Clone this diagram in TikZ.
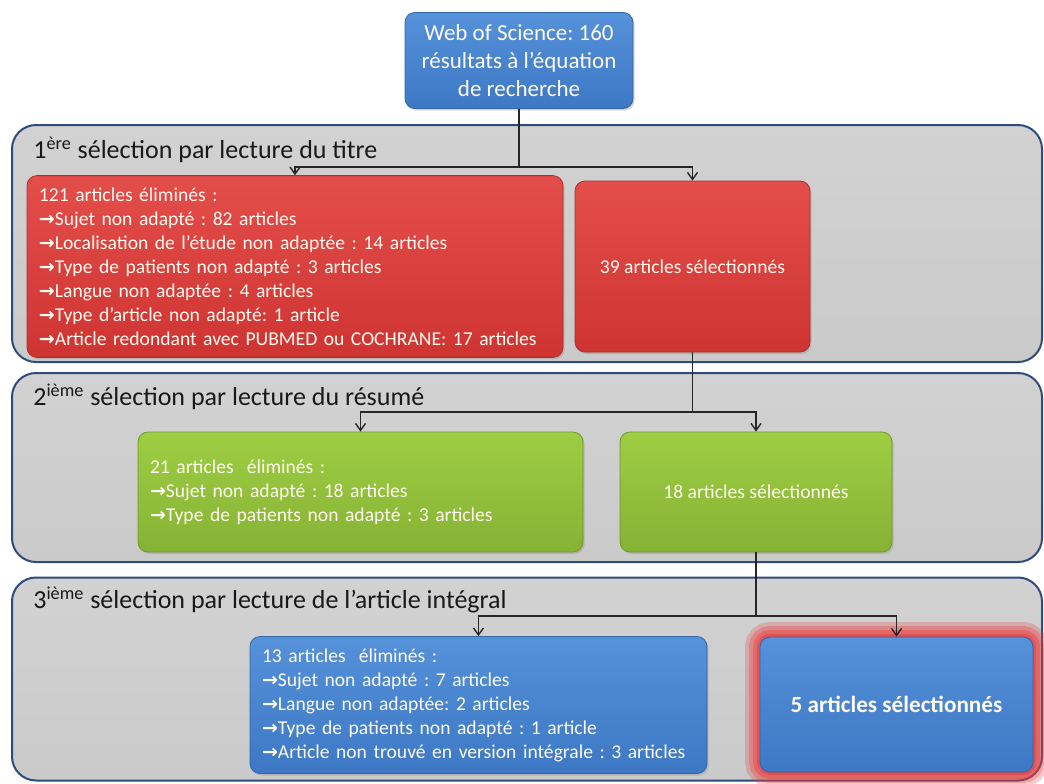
\documentclass[tikz,border=0pt]{standalone}
\usepackage{fontspec}
\setmainfont{Carlito}
\newfontfamily\arrowfont{DejaVu Sans}
\usetikzlibrary{arrows.meta, positioning, shadows}
\frenchspacing
\definecolor{bandgray}{RGB}{202,202,202}
\definecolor{bandline}{RGB}{47,75,125}
\definecolor{boxred}{RGB}{206,52,50}
\definecolor{boxredtop}{RGB}{228,78,74}
\definecolor{boxgreen}{RGB}{134,178,52}
\definecolor{boxgreentop}{RGB}{158,206,68}
\definecolor{boxblue}{RGB}{60,120,196}
\definecolor{boxbluetop}{RGB}{86,146,218}
\definecolor{glowred}{RGB}{236,58,58}
\definecolor{paletext}{RGB}{255,250,240}
\newcommand{\fleche}{{\arrowfont\bfseries\fontsize{9.5}{12}\selectfont →}}

\begin{document}
\begin{tikzpicture}[x=0.5pt, y=-0.5pt,
    band/.style={draw=bandline, line width=1pt, rounded corners=12pt,
        top color=bandgray!85, bottom color=bandgray, minimum width=515pt, inner sep=0pt},
    bandtitle/.style={anchor=west, inner sep=0pt, text=black!90,
        font=\fontsize{13}{15}\selectfont},
    box/.style={rounded corners=5pt, draw=#1!85!black, line width=0.4pt,
        top color=#1top, bottom color=#1, text=paletext, inner sep=6pt,
        font=\fontsize{9.8}{12}\selectfont,
        drop shadow={opacity=0.3, shadow xshift=0.8pt, shadow yshift=-1pt}},
    link/.style={draw=black!85, line width=0.7pt},
    >={Straight Barb[length=3.5pt,width=5pt]}]
    \useasboundingbox (0,0) rectangle (1044,783);

    % point de départ
    \node[box=boxblue, align=center, minimum width=114pt, minimum height=47.5pt,
        font=\fontsize{11.5}{14}\selectfont] (wos) at (519,60.5)
        {Web of Science: 160\\résultats à l’équation\\de recherche};

    % les trois étapes de sélection
    \node[band, minimum height=118.5pt] (tour1) at (527,243.5) {};
    \node[band, minimum height=94.5pt] (tour2) at (527,467.5) {};
    \node[band, minimum height=101.5pt] (tour3) at (527,679) {};
    \node[bandtitle] (titre1) at (33,150) {1\textsuperscript{ère} sélection par lecture du titre};
    \node[bandtitle] (titre2) at (33,397) {2\textsuperscript{ième} sélection par lecture du résumé};
    \node[bandtitle] (titre3) at (33,600) {3\textsuperscript{ième} sélection par lecture de l’article intégral};

    % étape 1
    \node[box=boxred, align=left, text width=256pt, minimum height=85.5pt] (elim1) at (295,266.5)
        {121 articles éliminés :\\
         \fleche Sujet non adapté : 82 articles\\
         \fleche Localisation de l’étude non adaptée : 14 articles\\
         \fleche Type de patients non adapté : 3 articles\\
         \fleche Langue non adaptée : 4 articles\\
         \fleche Type d’article non adapté: 1 article\\
         \fleche Article redondant avec PUBMED ou COCHRANE: 17 articles};
    \node[box=boxred, align=center, minimum width=117.5pt, minimum height=85.5pt] (sel1) at (692.5,266.5)
        {39 articles sélectionnés};

    % étape 2
    \node[box=boxgreen, align=left, text width=210.5pt, minimum height=60pt] (elim2) at (360.5,492)
        {21 articles\ \ éliminés :\\
         \fleche Sujet non adapté : 18 articles\\
         \fleche Type de patients non adapté : 3 articles};
    \node[box=boxgreen, align=center, minimum width=136pt, minimum height=60pt] (sel2) at (756,492)
        {18 articles sélectionnés};

    % étape 3
    \node[box=boxblue, align=left, text width=216.5pt, minimum height=68pt] (elim3) at (478.5,705)
        {13 articles\ \ éliminés :\\
         \fleche Sujet non adapté : 7 articles\\
         \fleche Langue non adaptée: 2 articles\\
         \fleche Type de patients non adapté : 1 article\\
         \fleche Article non trouvé en version intégrale : 3 articles};
    \node[box=boxblue, align=center, minimum width=136.5pt, minimum height=67.5pt,
        font=\fontsize{11.6}{14}\selectfont\bfseries,
        preaction={draw=glowred, line width=15pt, opacity=0.25},
        preaction={draw=glowred, line width=11pt, opacity=0.3},
        preaction={draw=glowred, line width=7pt, opacity=0.4},
        preaction={draw=glowred, line width=3pt, opacity=0.5}] (sel3) at (896.5,704.5)
        {5 articles sélectionnés};

    % liaisons
    \coordinate (j1) at (519,167);
    \coordinate (j2) at (692.5,412);
    \coordinate (j3) at (756,616);
    \draw[link] (wos.south) -- (j1);
    \draw[link, ->] (j1) -| (elim1.north);
    \draw[link, ->] (j1) -| (sel1.north);
    \draw[link] (sel1.south) -- (j2);
    \draw[link, ->] (j2) -| (elim2.north);
    \draw[link, ->] (j2) -| (sel2.north);
    \draw[link] (sel2.south) -- (j3);
    \draw[link, ->] (j3) -| (elim3.north);
    \draw[link, ->] (j3) -| (sel3.north);
\end{tikzpicture}
\end{document}
